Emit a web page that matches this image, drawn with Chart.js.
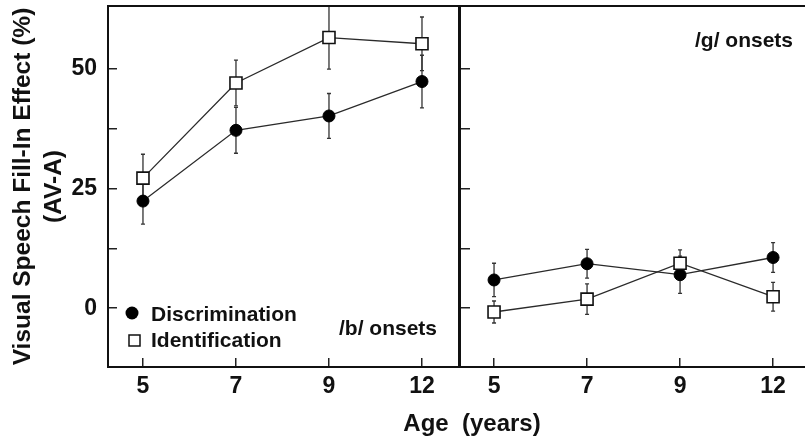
<!DOCTYPE html>
<html><head><meta charset="utf-8">
<script src="https://cdn.jsdelivr.net/npm/chart.js@4.4.1/dist/chart.umd.min.js"></script>
<style>
html,body{margin:0;padding:0;background:#fff;overflow:hidden;width:805px;height:442px;}
#wrap{position:relative;width:805px;height:442px;overflow:hidden;background:#fff;}
#cA{position:absolute;left:0;top:0;}
#cB{position:absolute;left:450px;top:0;}
</style></head><body>
<div id="wrap"><canvas id="cA" width="805" height="442"></canvas><canvas id="cB" width="360" height="442"></canvas></div>
<script>
// ---- data ----
const ages = ['5', '7', '9', '12'];
const seriesNames = ['Discrimination', 'Identification'];
const panelLabels = ['/b/ onsets', '/g/ onsets'];
const yTickValues = [0, 12.5, 25, 37.5, 50];
const yTitle = ['Visual Speech Fill-In Effect (%)', '(AV-A)'];
const xTitle = 'Age  (years)';

const bDisc = [22.4, 37.2, 40.2, 47.4];
const bDiscErr = [4.8, 4.8, 4.7, 5.5];
const bIdent = [27.2, 47.1, 56.6, 55.3];
const bIdentErr = [5.0, 4.8, 6.6, 5.6];

const gDisc = [5.9, 9.3, 7.0, 10.6];
const gDiscErr = [3.5, 3.0, 3.9, 3.1];
const gIdent = [-0.8, 1.9, 9.4, 2.4];
const gIdentErr = [2.3, 3.2, 2.8, 3.0];

// ---- helpers ----
const FONT = "'Liberation Sans', Arial, Helvetica, sans-serif";
Chart.defaults.font.family = FONT;
Chart.defaults.font.weight = 'bold';
Chart.defaults.color = '#111';

const pts = arr => arr.map((v, i) => ({x: i, y: v}));

function makeDatasets(disc, discErr, ident, identErr) {
  return [
    {label: seriesNames[1], data: pts(ident), errors: identErr,
     borderColor: '#2a2a2a', borderWidth: 1.3, pointStyle: 'rect', pointRadius: 8.5,
     pointBackgroundColor: '#fff', pointBorderColor: '#111', pointBorderWidth: 1.6, fill: false, tension: 0},
    {label: seriesNames[0], data: pts(disc), errors: discErr,
     borderColor: '#2a2a2a', borderWidth: 1.3, pointStyle: 'circle', pointRadius: 6,
     pointBackgroundColor: '#000', pointBorderColor: '#000', pointBorderWidth: 1, fill: false, tension: 0}
  ];
}

const errorBars = {
  id: 'errorBars',
  beforeDatasetsDraw(chart) {
    const {ctx, chartArea: a, scales: {x, y}} = chart;
    ctx.save();
    ctx.beginPath(); ctx.rect(a.left, a.top, a.width, a.height); ctx.clip();
    ctx.strokeStyle = '#333'; ctx.lineWidth = 1.3;
    chart.data.datasets.forEach(ds => {
      ds.data.forEach((p, i) => {
        const e = ds.errors[i];
        const px = x.getPixelForValue(p.x);
        const y1 = y.getPixelForValue(p.y + e), y2 = y.getPixelForValue(p.y - e);
        ctx.beginPath();
        ctx.moveTo(px, y1); ctx.lineTo(px, y2);
        ctx.moveTo(px - 2, y1); ctx.lineTo(px + 2, y1);
        ctx.moveTo(px - 2, y2); ctx.lineTo(px + 2, y2);
        ctx.stroke();
      });
    });
    ctx.restore();
  }
};

const frame = {
  id: 'frame',
  afterDraw(chart) {
    const {ctx, chartArea: a} = chart;
    ctx.save();
    ctx.strokeStyle = '#111'; ctx.lineWidth = 2;
    ctx.strokeRect(a.left, a.top, a.width, a.height);
    ctx.restore();
  }
};

const textA = {
  id: 'textA',
  afterDraw(chart) {
    const {ctx, chartArea: a} = chart;
    ctx.save();
    ctx.fillStyle = '#111';
    ctx.font = 'bold 21px ' + FONT;
    ctx.textBaseline = 'alphabetic';
    ctx.textAlign = 'right';
    ctx.fillText(panelLabels[0], a.right - 22, 335);
    // legend
    ctx.textAlign = 'left';
    ctx.beginPath(); ctx.arc(a.left + 24, 313, 6.5, 0, Math.PI * 2); ctx.fillStyle = '#000'; ctx.fill();
    ctx.fillStyle = '#111';
    ctx.fillText(seriesNames[0], a.left + 43, 321);
    ctx.lineWidth = 1.5; ctx.strokeStyle = '#111';
    ctx.strokeRect(a.left + 21, 335, 11, 11);
    ctx.fillText(seriesNames[1], a.left + 43, 347);
    // x title
    ctx.font = 'bold 24px ' + FONT;
    ctx.textAlign = 'center';
    ctx.fillText(xTitle, 472, 431);
    ctx.restore();
  }
};

const textB = {
  id: 'textB',
  afterDraw(chart) {
    const {ctx} = chart;
    ctx.save();
    ctx.fillStyle = '#111';
    ctx.font = 'bold 21px ' + FONT;
    ctx.textAlign = 'right';
    ctx.textBaseline = 'alphabetic';
    ctx.fillText(panelLabels[1], 343, 47);
    ctx.restore();
  }
};

const zeroPad = s => { s.paddingTop = 0; s.paddingBottom = 0; s.paddingLeft = 0; s.paddingRight = 0; };
const gridOpts = {display: true, drawOnChartArea: false, drawTicks: true, tickLength: -9, color: '#222', lineWidth: 1.5};

function xScale(min, max) {
  return {
    type: 'linear', min: min, max: max,
    afterBuildTicks: s => { s.ticks = ages.map((_, i) => ({value: i})); },
    ticks: {callback: v => ages[v], font: {size: 23, weight: 'bold'}, color: '#111', padding: 15, maxRotation: 0, autoSkip: false},
    grid: gridOpts, border: {display: false},
    afterFit: s => { s.height = 75; zeroPad(s); }
  };
}

const chartA = new Chart(document.getElementById('cA'), {
  type: 'line',
  data: {datasets: makeDatasets(bDisc, bDiscErr, bIdent, bIdentErr)},
  options: {
    responsive: false, animation: false, devicePixelRatio: 1,
    layout: {autoPadding: false, padding: {left: 0, right: 346, top: 6, bottom: 0}},
    plugins: {legend: {display: false}, tooltip: {enabled: false}},
    scales: {
      x: xScale(-0.376, 3.398),
      y: {
        type: 'linear', min: -12.3, max: 63.2,
        afterBuildTicks: s => { s.ticks = yTickValues.map(v => ({value: v})); },
        ticks: {callback: v => (v % 25 === 0 ? String(v) : ''), font: {size: 23, weight: 'bold'}, color: '#111', padding: 20},
        grid: gridOpts, border: {display: false},
        title: {display: true, text: yTitle, color: '#111', font: {size: 24.5, weight: 'bold', lineHeight: 1.25}, padding: {top: 8, bottom: 0}},
        afterFit: s => { s.width = 108; zeroPad(s); }
      }
    }
  },
  plugins: [errorBars, frame, textA]
});

const chartB = new Chart(document.getElementById('cB'), {
  type: 'line',
  data: {datasets: makeDatasets(gDisc, gDiscErr, gIdent, gIdentErr)},
  options: {
    responsive: false, animation: false, devicePixelRatio: 1,
    layout: {autoPadding: false, padding: {left: 0, right: 0, top: 6, bottom: 0}},
    plugins: {legend: {display: false}, tooltip: {enabled: false}},
    scales: {
      x: xScale(-0.366, 3.397),
      y: {
        type: 'linear', min: -12.3, max: 63.2,
        afterBuildTicks: s => { s.ticks = yTickValues.map(v => ({value: v})); },
        ticks: {display: false},
        grid: Object.assign({}, gridOpts, {tickLength: -10}), border: {display: false},
        afterFit: s => { s.width = 10; zeroPad(s); }
      }
    }
  },
  plugins: [errorBars, frame, textB]
});
</script>
</body></html>
